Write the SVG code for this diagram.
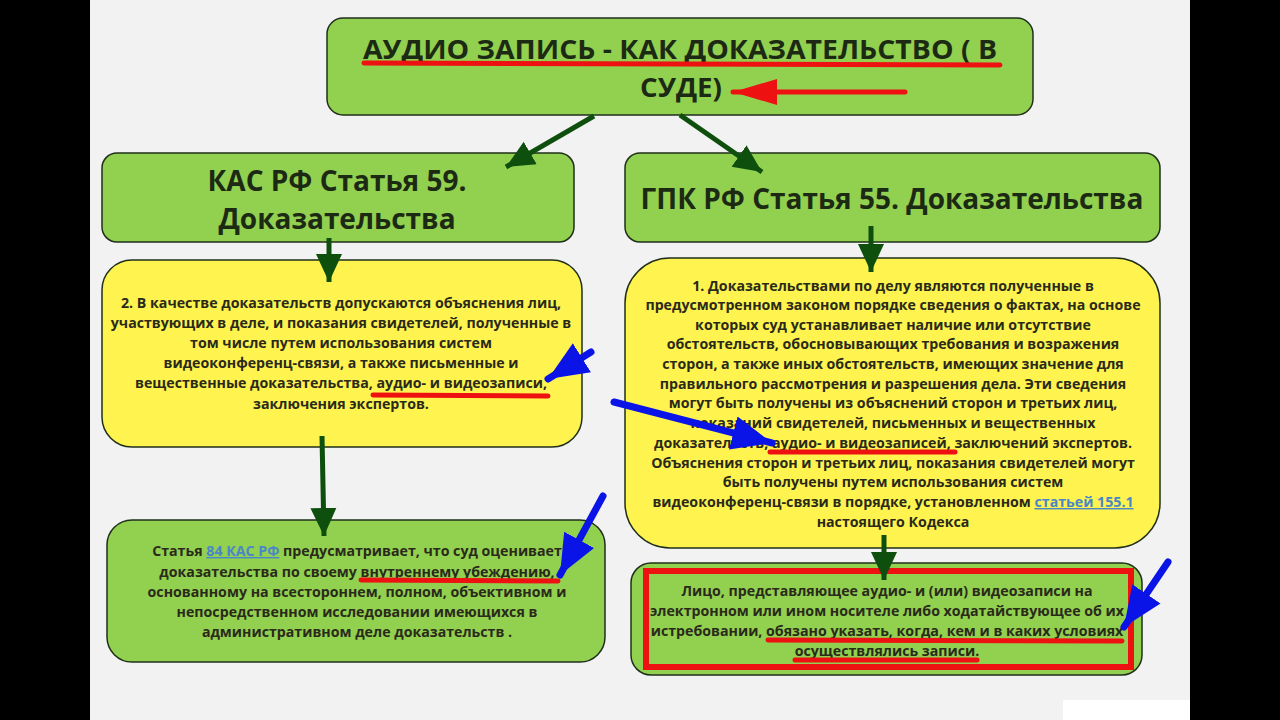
<svg xmlns="http://www.w3.org/2000/svg" width="1280" height="720" viewBox="0 0 1280 720">
<defs>
<style>
.box-g{fill:#92d050;stroke:#1f2f1a;stroke-width:1.5}
.box-y{fill:#fff44f;stroke:#1f2f1a;stroke-width:1.5}
.h{font-family:"Open Sans","Noto Sans","DejaVu Sans",sans-serif;font-weight:bold;fill:#1c2a14;text-anchor:middle}
.t{font-family:"Open Sans","Noto Sans","DejaVu Sans",sans-serif;font-weight:bold;font-size:14.2px;fill:#2a2a1a;text-anchor:middle}
.lnk{fill:#4a86c8;text-decoration:underline}
.gar{stroke:#0e4f0e;stroke-width:5;stroke-linecap:butt;fill:none}
.bar{stroke:#0a14e6;stroke-width:7;stroke-linecap:round;fill:none}
.red{stroke:#ee1111;stroke-width:5;stroke-linecap:round;fill:none}
</style>
<marker id="mg" markerUnits="userSpaceOnUse" markerWidth="30" markerHeight="28" refX="28" refY="14" orient="auto"><path d="M0,1 L28,14 L0,27 Z" fill="#0e4f0e"/></marker>
<marker id="mb" markerUnits="userSpaceOnUse" markerWidth="42" markerHeight="36" refX="40" refY="18" orient="auto"><path d="M0,1 L40,18 L0,35 Z" fill="#0a14e6"/></marker>
<marker id="mr" markerUnits="userSpaceOnUse" markerWidth="46" markerHeight="30" refX="44" refY="15" orient="auto"><path d="M0,2 L44,15 L0,28 Z" fill="#ee1111"/></marker>
</defs>
<rect x="0" y="0" width="1280" height="720" fill="#000"/>
<rect x="90" y="0" width="1100" height="720" fill="#f2f2f2"/>
<rect x="1063" y="700" width="127" height="20" fill="#fff"/>

<g id="title">
<rect class="box-g" x="327" y="18" width="706" height="97" rx="16"/>
<text class="h" x="680" y="59" font-size="26" textLength="634" lengthAdjust="spacingAndGlyphs">АУДИО ЗАПИСЬ - КАК ДОКАЗАТЕЛЬСТВО ( В</text>
<text class="h" x="681" y="97" font-size="26" textLength="82" lengthAdjust="spacingAndGlyphs">СУДЕ)</text>
</g>

<g id="kas-header">
<rect class="box-g" x="102" y="153" width="472" height="89" rx="15"/>
<text class="h" x="337" y="191" font-size="28">КАС РФ Статья 59.</text>
<text class="h" x="337" y="229" font-size="28">Доказательства</text>
</g>

<g id="gpk-header">
<rect class="box-g" x="625" y="153" width="535" height="89" rx="15"/>
<text class="h" x="892" y="209" font-size="28">ГПК РФ Статья 55. Доказательства</text>
</g>

<g id="kas-text">
<rect class="box-y" x="102" y="260" width="480" height="187" rx="30"/>
<text class="t" x="341" y="308">2. В качестве доказательств допускаются объяснения лиц,</text>
<text class="t" x="341" y="328">участвующих в деле, и показания свидетелей, полученные в</text>
<text class="t" x="341" y="348">том числе путем использования систем</text>
<text class="t" x="341" y="368">видеоконференц-связи, а также письменные и</text>
<text class="t" x="341" y="388">вещественные доказательства, аудио- и видеозаписи,</text>
<text class="t" x="341" y="409">заключения экспертов.</text>
</g>

<g id="gpk-text">
<rect class="box-y" x="625" y="258" width="535" height="290" rx="45"/>
<text class="t" x="893" y="291">1. Доказательствами по делу являются полученные в</text>
<text class="t" x="893" y="310">предусмотренном законом порядке сведения о фактах, на основе</text>
<text class="t" x="893" y="330">которых суд устанавливает наличие или отсутствие</text>
<text class="t" x="893" y="349">обстоятельств, обосновывающих требования и возражения</text>
<text class="t" x="893" y="369">сторон, а также иных обстоятельств, имеющих значение для</text>
<text class="t" x="893" y="389">правильного рассмотрения и разрешения дела. Эти сведения</text>
<text class="t" x="893" y="408">могут быть получены из объяснений сторон и третьих лиц,</text>
<text class="t" x="893" y="428">показаний свидетелей, письменных и вещественных</text>
<text class="t" x="893" y="448">доказательств, аудио- и видеозаписей, заключений экспертов.</text>
<text class="t" x="893" y="468">Объяснения сторон и третьих лиц, показания свидетелей могут</text>
<text class="t" x="893" y="487">быть получены путем использования систем</text>
<text class="t" x="893" y="507">видеоконференц-связи в порядке, установленном <tspan class="lnk">статьей 155.1</tspan></text>
<text class="t" x="893" y="527">настоящего Кодекса</text>
</g>

<g id="kas-84">
<rect class="box-g" x="107" y="520" width="498" height="142" rx="25"/>
<text class="t" x="357" y="556">Статья <tspan class="lnk">84 КАС РФ</tspan> предусматривает, что суд оценивает</text>
<text class="t" x="357" y="577">доказательства по своему внутреннему убеждению,</text>
<text class="t" x="357" y="597">основанному на всестороннем, полном, объективном и</text>
<text class="t" x="357" y="617">непосредственном исследовании имеющихся в</text>
<text class="t" x="357" y="637">административном деле доказательств .</text>
</g>

<g id="gpk-record">
<rect class="box-g" x="631" y="563" width="511" height="112" rx="20"/>
<rect x="646" y="571" width="485" height="96" fill="none" stroke="#ee1111" stroke-width="6"/>
<text class="t" x="887" y="596">Лицо, представляющее аудио- и (или) видеозаписи на</text>
<text class="t" x="887" y="616">электронном или ином носителе либо ходатайствующее об их</text>
<text class="t" x="887" y="636">истребовании, обязано указать, когда, кем и в каких условиях</text>
<text class="t" x="887" y="656">осуществлялись записи.</text>
</g>

<g id="connectors">
<line class="gar" x1="594" y1="116" x2="506" y2="167" marker-end="url(#mg)"/>
<line class="gar" x1="680" y1="115" x2="762" y2="172" marker-end="url(#mg)"/>
<line class="gar" x1="329" y1="238" x2="329" y2="282" marker-end="url(#mg)"/>
<line class="gar" x1="322" y1="436" x2="324" y2="536" marker-end="url(#mg)"/>
<line class="gar" x1="871" y1="226" x2="871" y2="272" marker-end="url(#mg)"/>
<line class="gar" x1="884" y1="535" x2="884" y2="580" marker-end="url(#mg)"/>
</g>

<g id="annotations">
<line class="red" x1="364" y1="63" x2="1000" y2="65" stroke-width="6"/>
<line class="red" x1="905" y1="92" x2="733" y2="92" stroke-width="8" marker-end="url(#mr)"/>
<line class="red" x1="373" y1="395" x2="548" y2="396"/>
<line class="red" x1="770" y1="452" x2="955" y2="452"/>
<line class="red" x1="361" y1="580" x2="558" y2="581"/>
<line class="red" x1="768" y1="640" x2="1122" y2="641" stroke-width="4"/>
<line class="red" x1="795" y1="660" x2="977" y2="660" stroke-width="4"/>
<line class="bar" x1="591" y1="352" x2="548" y2="379" marker-end="url(#mb)"/>
<line class="bar" x1="614" y1="402" x2="772" y2="443" marker-end="url(#mb)"/>
<line class="bar" x1="603" y1="496" x2="560" y2="575" marker-end="url(#mb)"/>
<line class="bar" x1="1168" y1="562" x2="1124" y2="627" marker-end="url(#mb)"/>
</g>
</svg>
